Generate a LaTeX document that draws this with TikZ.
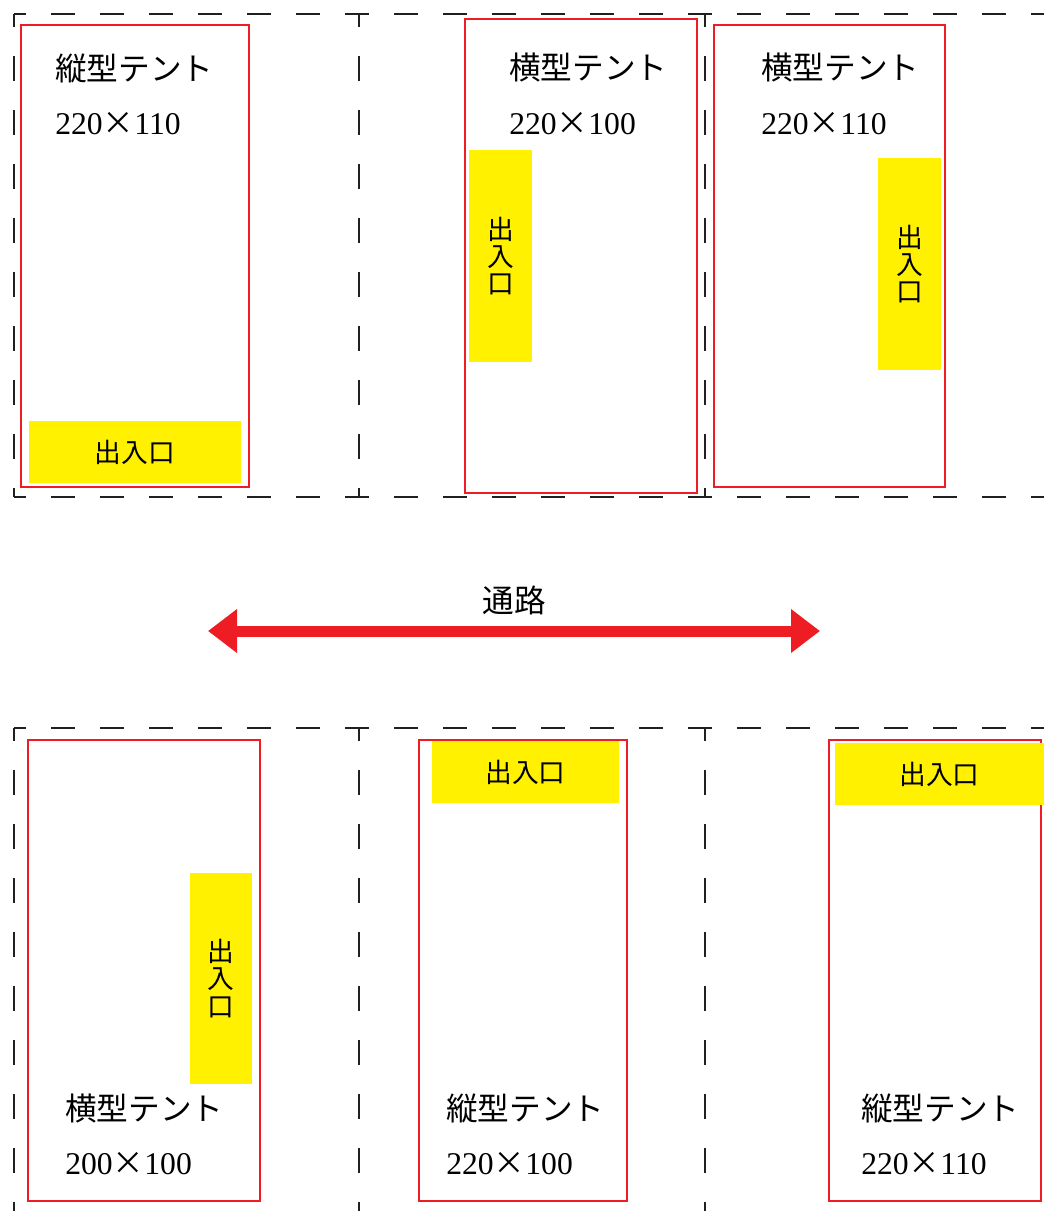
\documentclass[tikz,border=0pt]{standalone}
\usepackage{fontspec}
\setmainfont{Liberation Serif}
\newfontfamily\jp{Noto Sans CJK JP}
\usepackage{tikz}
\usetikzlibrary{arrows.meta, positioning}

\definecolor{tentred}{HTML}{EE1D24}
\definecolor{dooryellow}{HTML}{FFF100}
\definecolor{lotgray}{HTML}{231F20}

\newcommand{\bytimes}{{\jp ×}}

\begin{document}
\begin{tikzpicture} [x = 0.025cm, y = -0.025cm]
\tikzset{
  lot/.style = {lotgray, line width = 2.1pt, dash pattern = on 0.6cm off 0.625cm, dash phase = 0.3cm},
  lotv/.style = {lotgray, line width = 2.1pt, dash pattern = on 0.625cm off 0.725cm, dash phase = 0.3cm},
  tent/.style = {draw = tentred, line width = 2pt},
  door/.style = {fill = dooryellow, inner sep = 0pt, align = center, font = \jp\fontsize{19}{19.5}\selectfont},
  kind/.style = {anchor = west, inner sep = 0pt, font = \jp\fontsize{22.5}{27}\selectfont},
  dims/.style = {anchor = west, inner sep = 0pt, font = \fontsize{22.5}{27}\selectfont},
  aisle/.style = {draw = tentred, line width = 0.275cm, {Triangle[length = 0.725cm, width = 1.05cm]}-{Triangle[length = 0.725cm, width = 1.05cm]}}
}

\useasboundingbox (0,0) rectangle (1044,1211);

% lots
\draw [lot] (14,14) -- (1044,14);
\draw [lot] (14,497) -- (1044,497);
\draw [lot] (14,728) -- (1044,728);
\foreach \x in {14, 359, 705} {
  \draw [lotv] (\x,14) -- (\x,497);
  \draw [lotv] (\x,728) -- (\x,1211);
}

% tents
\draw [tent] (21,25) rectangle (249,487);
\draw [tent] (465,19) rectangle (697,493);
\draw [tent] (714,25) rectangle (945,487);
\draw [tent] (28,740) rectangle (260,1201);
\draw [tent] (419,740) rectangle (627,1201);
\draw [tent] (829,740) rectangle (1041,1201);

% doors
\node (door1) [door, minimum width = 5.3cm, minimum height = 1.55cm] at (135,452) {出入口};
\node (door2) [door, minimum width = 1.575cm, minimum height = 5.3cm] at (500.5,256) {出\\入\\口};
\node (door3) [door, minimum width = 1.575cm, minimum height = 5.3cm] at (909.5,264) {出\\入\\口};
\node (door4) [door, minimum width = 1.55cm, minimum height = 5.275cm] at (221,978.5) {出\\入\\口};
\node (door5) [door, minimum width = 4.675cm, minimum height = 1.55cm] at (525.5,772) {出入口};
\node (door6) [door, minimum width = 5.225cm, minimum height = 1.55cm] at (939.5,774) {出入口};

% labels
\node (kind1) [kind] at (55,68) {縦型テント};
\node (size1) [dims, below = 1.4cm of kind1.west, anchor = west] {220\bytimes110};
\node (kind2) [kind] at (509,68) {横型テント};
\node (size2) [dims, below = 1.4cm of kind2.west, anchor = west] {220\bytimes100};
\node (kind3) [kind] at (761,68) {横型テント};
\node (size3) [dims, below = 1.4cm of kind3.west, anchor = west] {220\bytimes110};
\node (kind4) [kind] at (65,1108) {横型テント};
\node (size4) [dims, below = 1.4cm of kind4.west, anchor = west] {200\bytimes100};
\node (kind5) [kind] at (446,1108) {縦型テント};
\node (size5) [dims, below = 1.4cm of kind5.west, anchor = west] {220\bytimes100};
\node (kind6) [kind] at (861,1108) {縦型テント};
\node (size6) [dims, below = 1.4cm of kind6.west, anchor = west] {220\bytimes110};

% aisle
\coordinate (west) at (208,631);
\coordinate (east) at (820,631);
\draw [aisle] (west) -- (east);
\node (road) [font = \jp\fontsize{22.5}{27}\selectfont] at (514,600) {通路};

\end{tikzpicture}
\end{document}
